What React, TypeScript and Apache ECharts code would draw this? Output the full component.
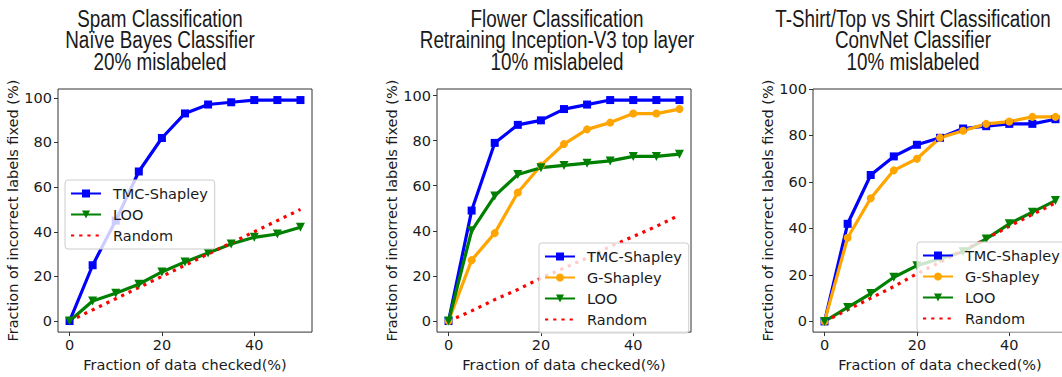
import React, { useEffect, useRef } from "react";
import * as echarts from "echarts";

// ---- data ----
const xs = [0, 5, 10, 15, 20, 25, 30, 35, 40, 45, 50];

const spamTmc = [0, 25, 45, 67, 82, 93, 97, 98, 99, 99, 99];
const spamLoo = [0, 9, 12.5, 16.5, 22, 26.5, 30.5, 34.5, 37.5, 39, 42];
const spamRandom = [0, 5, 10, 15, 20, 25, 30, 35, 40, 45, 50];

const flowerTmc = [0, 49, 79, 87, 89, 94, 96, 98, 98, 98, 98];
const flowerG = [0, 27, 39, 57, 69, 78.5, 85, 88, 92, 92, 94];
const flowerLoo = [0, 40, 55.5, 65, 68, 69, 70, 71, 73, 73, 74];
const flowerRandom = [0, 4.5, 9.5, 14, 19, 23.5, 28, 33, 37.5, 42, 47];

const shirtTmc = [0, 42, 63, 71, 76, 79, 83, 84, 85, 85, 87];
const shirtG = [0, 36, 53, 65, 70, 79, 82, 85, 86, 88, 88];
const shirtLoo = [0, 6, 12, 19, 24, 27, 30, 35.5, 42, 47, 52];
const shirtRandom = [0, 5, 10, 15, 20.5, 25.5, 30.5, 35.5, 41, 46, 51];

const xTicks = [0, 20, 40];
const yTicks = [0, 20, 40, 60, 80, 100];

const titleSpam = ["Spam Classification", "Naïve Bayes Classifier", "20% mislabeled"];
const titleFlower = ["Flower Classification", "Retraining Inception-V3 top layer", "10% mislabeled"];
const titleShirt = ["T-Shirt/Top vs Shirt Classification", "ConvNet Classifier", "10% mislabeled"];

const xName = "Fraction of data checked(%)";
const yName = "Fraction of incorrect labels fixed (%)";

// ---- layout / style ----
const FONT = "DejaVu Sans";
const FS = 14.5;
const TXT = "#1a1a1a";
const SPINE = "#333";

const grids = [
  { left: 58, top: 89, width: 254, height: 249, yMin: -4.95, yMax: 103.95, yGap: 31 },
  { left: 437, top: 89, width: 254, height: 249, yMin: -4.9, yMax: 102.9, yGap: 29 },
  { left: 813, top: 89, width: 254, height: 249, yMin: -4.6, yMax: 100, yGap: 38 },
];

const styles: Record<string, any> = {
  "TMC-Shapley": { color: "#0000ff", symbol: "rect", symbolSize: 8, symbolRotate: 0 },
  "G-Shapley": { color: "#ffa500", symbol: "circle", symbolSize: 8, symbolRotate: 0 },
  LOO: { color: "#008000", symbol: "triangle", symbolSize: 9, symbolRotate: 180 },
  Random: { color: "#ff0000", symbol: "none", symbolSize: 0, symbolRotate: 0 },
};

function mkSeries(name: string, vals: number[], gi: number) {
  const s = styles[name];
  const isRandom = name === "Random";
  return {
    type: "line",
    name,
    xAxisIndex: gi,
    yAxisIndex: gi,
    data: xs.map((x, i) => [x, vals[i]]),
    symbol: s.symbol,
    symbolSize: s.symbolSize,
    symbolRotate: s.symbolRotate,
    showSymbol: !isRandom,
    itemStyle: { color: s.color },
    lineStyle: isRandom
      ? { color: s.color, width: 3.2, type: [3.2, 5], cap: "butt" }
      : { color: s.color, width: 3.2 },
    emphasis: { disabled: true },
    silent: true,
  };
}

function mkLegend(left: number, top: number, names: string[]) {
  return {
    orient: "vertical",
    left,
    top,
    itemWidth: 30,
    itemHeight: 10,
    itemGap: 6,
    padding: [6, 7, 6, 5],
    backgroundColor: "rgba(255,255,255,0.8)",
    borderColor: "#cccccc",
    borderWidth: 1,
    borderRadius: 3,
    selectedMode: false,
    textStyle: { fontFamily: FONT, fontSize: FS, color: TXT, lineHeight: 14.5, padding: [0, 0, 0, 7] },
    data: names.map((n) =>
      n === "Random" ? { name: n, itemStyle: { color: "rgba(0,0,0,0)", borderWidth: 0 } } : { name: n }
    ),
  };
}

function mkTitle(lines: string[], cx: number) {
  const ys = [18.7, 40, 61.3];
  return lines.map((t, i) => ({
    type: "text",
    x: cx,
    y: ys[i],
    scaleX: 0.82,
    silent: true,
    style: {
      text: t,
      fontFamily: "Liberation Sans, Arial, sans-serif",
      fontSize: 23,
      fill: TXT,
      textAlign: "center",
      textVerticalAlign: "middle",
    },
  }));
}

export default function App() {
  const ref = useRef<HTMLDivElement>(null);
  useEffect(() => {
    if (!ref.current) return;
    const chart = echarts.init(ref.current, undefined, { renderer: "svg" });
    const option: any = {
      animation: false,
      backgroundColor: "#ffffff",
      grid: grids.map((g) => ({
        left: g.left,
        top: g.top,
        width: g.width,
        height: g.height,
        show: true,
        borderColor: SPINE,
        borderWidth: 1,
        backgroundColor: "transparent",
        containLabel: false,
      })),
      xAxis: grids.map((g, i) => ({
        type: "value",
        gridIndex: i,
        position: "bottom",
        min: -2.5,
        max: 52.5,
        axisLine: { show: false, onZero: false },
        splitLine: { show: false },
        axisTick: { show: true, length: 4, customValues: xTicks, lineStyle: { color: SPINE } },
        axisLabel: { customValues: xTicks, margin: 5, fontFamily: FONT, fontSize: FS, color: TXT },
        name: xName,
        nameLocation: "middle",
        nameGap: 21,
        nameTextStyle: { fontFamily: FONT, fontSize: FS, color: TXT },
      })),
      yAxis: grids.map((g, i) => ({
        type: "value",
        gridIndex: i,
        position: "left",
        min: g.yMin,
        max: g.yMax,
        axisLine: { show: false, onZero: false },
        splitLine: { show: false },
        axisTick: { show: true, length: 4, customValues: yTicks, lineStyle: { color: SPINE } },
        axisLabel: { customValues: yTicks, margin: 6, fontFamily: FONT, fontSize: FS, color: TXT },
        name: yName,
        nameLocation: "middle",
        nameRotate: 90,
        nameGap: g.yGap,
        nameTextStyle: { fontFamily: FONT, fontSize: FS, color: TXT },
      })),
      legend: [
        mkLegend(65, 180, ["TMC-Shapley", "LOO", "Random"]),
        mkLegend(539, 243, ["TMC-Shapley", "G-Shapley", "LOO", "Random"]),
        mkLegend(917, 242, ["TMC-Shapley", "G-Shapley", "LOO", "Random"]),
      ],
      series: [
        mkSeries("TMC-Shapley", spamTmc, 0),
        mkSeries("LOO", spamLoo, 0),
        mkSeries("Random", spamRandom, 0),
        mkSeries("TMC-Shapley", flowerTmc, 1),
        mkSeries("G-Shapley", flowerG, 1),
        mkSeries("LOO", flowerLoo, 1),
        mkSeries("Random", flowerRandom, 1),
        mkSeries("TMC-Shapley", shirtTmc, 2),
        mkSeries("G-Shapley", shirtG, 2),
        mkSeries("LOO", shirtLoo, 2),
        mkSeries("Random", shirtRandom, 2),
      ],
      graphic: [
        ...mkTitle(titleSpam, 160),
        ...mkTitle(titleFlower, 557),
        ...mkTitle(titleShirt, 913),
      ],
    };
    chart.setOption(option);
    return () => chart.dispose();
  }, []);
  return (
    <div style={{ position: "absolute", left: 0, top: 0, width: 1062, height: 377, overflow: "hidden", background: "#fff" }}>
      <div ref={ref} style={{ width: 1068, height: 377 }} />
    </div>
  );
}
